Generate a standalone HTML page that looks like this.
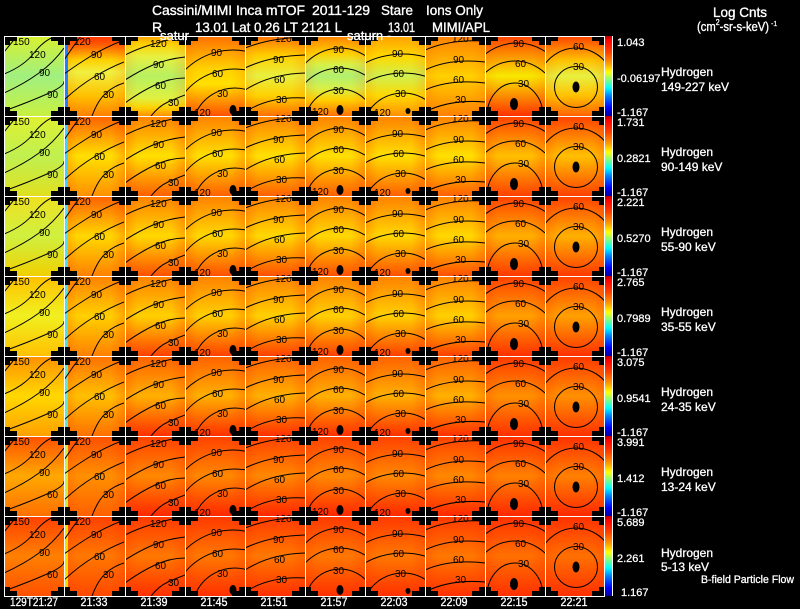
<!DOCTYPE html>
<html>
<head>
<meta charset="utf-8">
<style>
html,body{margin:0;padding:0;background:#000;width:800px;height:609px;overflow:hidden;}
svg{display:block;}
text{font-family:"Liberation Sans",sans-serif;}
</style>
</head>
<body>
<svg width="800" height="609" viewBox="0 0 800 609" xmlns="http://www.w3.org/2000/svg" xmlns:xlink="http://www.w3.org/1999/xlink" overflow="hidden">
<defs>
<clipPath id="pc"><rect x="0" y="0" width="60" height="80"/></clipPath>
<linearGradient id="r0a" x1="0" y1="0" x2="0" y2="1"><stop offset="0" stop-color="#d8f030"/><stop offset=".5" stop-color="#a0f080"/><stop offset="1" stop-color="#c8f040"/></linearGradient>
<linearGradient id="r0b" x1="0" y1="0" x2="0" y2="1"><stop offset="0" stop-color="#ff3000"/><stop offset=".12" stop-color="#ff6000"/><stop offset=".3" stop-color="#ffd000"/><stop offset=".45" stop-color="#f0f040"/><stop offset=".75" stop-color="#ffc000"/><stop offset="1" stop-color="#ff8000"/></linearGradient>
<linearGradient id="r0c" x1="0" y1="0" x2="0" y2="1"><stop offset="0" stop-color="#ffa000"/><stop offset=".1" stop-color="#ffd000"/><stop offset=".25" stop-color="#e8f040"/><stop offset=".5" stop-color="#b8f060"/><stop offset=".78" stop-color="#e0f040"/><stop offset=".9" stop-color="#ffd000"/><stop offset="1" stop-color="#ff9000"/></linearGradient>
<linearGradient id="r0d" x1="0" y1="0" x2="0" y2="1"><stop offset="0" stop-color="#ff7000"/><stop offset=".4" stop-color="#ffd000"/><stop offset=".6" stop-color="#ffe000"/><stop offset="1" stop-color="#ff5000"/></linearGradient>
<linearGradient id="r0e" x1="0" y1="0" x2="0" y2="1"><stop offset="0" stop-color="#ff7000"/><stop offset=".25" stop-color="#ffd000"/><stop offset=".5" stop-color="#e8f040"/><stop offset=".75" stop-color="#ffd000"/><stop offset="1" stop-color="#ff7000"/></linearGradient>
<linearGradient id="r0f" x1="0" y1="0" x2="0" y2="1"><stop offset="0" stop-color="#ff8000"/><stop offset=".22" stop-color="#ffd000"/><stop offset=".35" stop-color="#d8f048"/><stop offset=".5" stop-color="#b0f070"/><stop offset=".65" stop-color="#d8f048"/><stop offset=".8" stop-color="#ffd000"/><stop offset="1" stop-color="#ff7000"/></linearGradient>
<linearGradient id="r0g" x1="0" y1="0" x2="0" y2="1"><stop offset="0" stop-color="#ffa000"/><stop offset=".25" stop-color="#ffd800"/><stop offset=".5" stop-color="#d0f050"/><stop offset=".75" stop-color="#ffd800"/><stop offset="1" stop-color="#ff9000"/></linearGradient>
<linearGradient id="r0h" x1="0" y1="0" x2="0" y2="1"><stop offset="0" stop-color="#ff8000"/><stop offset=".5" stop-color="#ffd000"/><stop offset="1" stop-color="#ff8000"/></linearGradient>
<linearGradient id="r0i" x1="0" y1="0" x2="0" y2="1"><stop offset="0" stop-color="#ff4000"/><stop offset=".5" stop-color="#f8e800"/><stop offset="1" stop-color="#ff3000"/></linearGradient>
<linearGradient id="r0j" x1="0" y1="0" x2="0" y2="1"><stop offset="0" stop-color="#ff4000"/><stop offset=".3" stop-color="#ffc000"/><stop offset=".5" stop-color="#e8f040"/><stop offset=".75" stop-color="#ffc000"/><stop offset="1" stop-color="#ff6000"/></linearGradient>
<linearGradient id="r1a" x1="0" y1="0" x2="0" y2="1"><stop offset="0" stop-color="#e0f030"/><stop offset=".5" stop-color="#c0f050"/><stop offset="1" stop-color="#e0e020"/></linearGradient>
<linearGradient id="r1b" x1="0" y1="0" x2="0" y2="1"><stop offset="0" stop-color="#ff6000"/><stop offset=".5" stop-color="#ffe000"/><stop offset="1" stop-color="#ff9000"/></linearGradient>
<linearGradient id="r1m" x1="0" y1="0" x2="0" y2="1"><stop offset="0" stop-color="#ff8000"/><stop offset=".5" stop-color="#ffe000"/><stop offset="1" stop-color="#ff6000"/></linearGradient>
<linearGradient id="r1e" x1="0" y1="0" x2="0" y2="1"><stop offset="0" stop-color="#ff4000"/><stop offset=".5" stop-color="#ffc000"/><stop offset="1" stop-color="#ff4000"/></linearGradient>
<linearGradient id="r2a" x1="0" y1="0" x2="0" y2="1"><stop offset="0" stop-color="#f0e020"/><stop offset=".5" stop-color="#d0f040"/><stop offset="1" stop-color="#f0d000"/></linearGradient>
<linearGradient id="r2b" x1="0" y1="0" x2="0" y2="1"><stop offset="0" stop-color="#ff6000"/><stop offset=".5" stop-color="#ffd800"/><stop offset="1" stop-color="#ff8000"/></linearGradient>
<linearGradient id="r2m" x1="0" y1="0" x2="0" y2="1"><stop offset="0" stop-color="#ff8000"/><stop offset=".5" stop-color="#ffd800"/><stop offset="1" stop-color="#ff5000"/></linearGradient>
<linearGradient id="r2e" x1="0" y1="0" x2="0" y2="1"><stop offset="0" stop-color="#ff4000"/><stop offset=".5" stop-color="#ffb000"/><stop offset="1" stop-color="#ff3800"/></linearGradient>
<linearGradient id="r3a" x1="0" y1="0" x2="0" y2="1"><stop offset="0" stop-color="#ffc000"/><stop offset=".5" stop-color="#f0f020"/><stop offset="1" stop-color="#ffc000"/></linearGradient>
<linearGradient id="r3b" x1="0" y1="0" x2="0" y2="1"><stop offset="0" stop-color="#ff8000"/><stop offset=".5" stop-color="#ffd000"/><stop offset="1" stop-color="#ff8000"/></linearGradient>
<linearGradient id="r3m" x1="0" y1="0" x2="0" y2="1"><stop offset="0" stop-color="#ff8000"/><stop offset=".5" stop-color="#ffd000"/><stop offset="1" stop-color="#ff4000"/></linearGradient>
<linearGradient id="r3e" x1="0" y1="0" x2="0" y2="1"><stop offset="0" stop-color="#ff4000"/><stop offset=".5" stop-color="#ffa000"/><stop offset="1" stop-color="#ff3000"/></linearGradient>
<linearGradient id="r4a" x1="0" y1="0" x2="0" y2="1"><stop offset="0" stop-color="#ff9000"/><stop offset=".5" stop-color="#ffd800"/><stop offset="1" stop-color="#ffa000"/></linearGradient>
<linearGradient id="r4b" x1="0" y1="0" x2="0" y2="1"><stop offset="0" stop-color="#ff7000"/><stop offset=".5" stop-color="#ffc000"/><stop offset="1" stop-color="#ff7000"/></linearGradient>
<linearGradient id="r4m" x1="0" y1="0" x2="0" y2="1"><stop offset="0" stop-color="#ff6000"/><stop offset=".5" stop-color="#ffb000"/><stop offset="1" stop-color="#ff3000"/></linearGradient>
<linearGradient id="r4e" x1="0" y1="0" x2="0" y2="1"><stop offset="0" stop-color="#ff3800"/><stop offset=".5" stop-color="#ff9000"/><stop offset="1" stop-color="#ff3000"/></linearGradient>
<linearGradient id="r5a" x1="0" y1="0" x2="0" y2="1"><stop offset="0" stop-color="#ff5000"/><stop offset=".5" stop-color="#ffa800"/><stop offset="1" stop-color="#ff7000"/></linearGradient>
<linearGradient id="r5b" x1="0" y1="0" x2="0" y2="1"><stop offset="0" stop-color="#ff5000"/><stop offset=".5" stop-color="#ff9000"/><stop offset="1" stop-color="#ff6000"/></linearGradient>
<linearGradient id="r5m" x1="0" y1="0" x2="0" y2="1"><stop offset="0" stop-color="#ff4000"/><stop offset=".5" stop-color="#ff8800"/><stop offset="1" stop-color="#ff2800"/></linearGradient>
<linearGradient id="r5e" x1="0" y1="0" x2="0" y2="1"><stop offset="0" stop-color="#ff3000"/><stop offset=".5" stop-color="#ff8000"/><stop offset="1" stop-color="#ff2800"/></linearGradient>
<linearGradient id="r6a" x1="0" y1="0" x2="0" y2="1"><stop offset="0" stop-color="#ff4000"/><stop offset=".5" stop-color="#ff8000"/><stop offset="1" stop-color="#ff5000"/></linearGradient>
<linearGradient id="r6b" x1="0" y1="0" x2="0" y2="1"><stop offset="0" stop-color="#ff4000"/><stop offset=".5" stop-color="#ff7800"/><stop offset="1" stop-color="#ff4800"/></linearGradient>
<linearGradient id="r6m" x1="0" y1="0" x2="0" y2="1"><stop offset="0" stop-color="#ff3800"/><stop offset=".5" stop-color="#ff7800"/><stop offset="1" stop-color="#ff3000"/></linearGradient>
<linearGradient id="r6e" x1="0" y1="0" x2="0" y2="1"><stop offset="0" stop-color="#ff3000"/><stop offset=".5" stop-color="#ff7000"/><stop offset="1" stop-color="#ff3000"/></linearGradient>
<linearGradient id="cb" x1="0" y1="0" x2="0" y2="1"><stop offset="0" stop-color="#b00000"/><stop offset=".05" stop-color="#ff0000"/><stop offset=".2" stop-color="#ff4000"/><stop offset=".35" stop-color="#ffa000"/><stop offset=".45" stop-color="#ffff00"/><stop offset=".55" stop-color="#80ff80"/><stop offset=".65" stop-color="#00ffff"/><stop offset=".75" stop-color="#0080ff"/><stop offset=".9" stop-color="#0000ff"/><stop offset="1" stop-color="#0000a0"/></linearGradient>
<linearGradient id="sdg" x1="0" y1="0" x2="1" y2="0"><stop offset="0" stop-color="#ff3000" stop-opacity=".25"/><stop offset=".22" stop-color="#ff3000" stop-opacity="0"/><stop offset=".78" stop-color="#ff3000" stop-opacity="0"/><stop offset="1" stop-color="#ff3000" stop-opacity=".25"/></linearGradient>
<pattern id="sd" patternUnits="userSpaceOnUse" x="4" y="36" width="60.1" height="80"><rect x="0" y="0" width="60.1" height="80" fill="url(#sdg)"/></pattern>
<path id="xc" d="M-13,-5h26v10h-26zM-6,-9h12v18h-12z" fill="#000"/>
</defs>

<rect x="0" y="0" width="800" height="609" fill="#000"/>

<rect x="4" y="36" width="60" height="80" fill="url(#r0a)"/>
<rect x="64" y="36" width="61" height="80" fill="url(#r0b)"/>
<rect x="125" y="36" width="60" height="80" fill="url(#r0c)"/>
<rect x="185" y="36" width="60" height="80" fill="url(#r0d)"/>
<rect x="245" y="36" width="60" height="80" fill="url(#r0e)"/>
<rect x="305" y="36" width="60" height="80" fill="url(#r0f)"/>
<rect x="365" y="36" width="60" height="80" fill="url(#r0g)"/>
<rect x="425" y="36" width="60" height="80" fill="url(#r0h)"/>
<rect x="485" y="36" width="60" height="80" fill="url(#r0i)"/>
<rect x="545" y="36" width="60" height="80" fill="url(#r0j)"/>
<rect x="4" y="116" width="60" height="80" fill="url(#r1a)"/><rect x="64" y="116" width="61" height="80" fill="url(#r1b)"/><rect x="125" y="116" width="360" height="80" fill="url(#r1m)"/><rect x="485" y="116" width="120" height="80" fill="url(#r1e)"/>
<rect x="4" y="196" width="60" height="80" fill="url(#r2a)"/><rect x="64" y="196" width="61" height="80" fill="url(#r2b)"/><rect x="125" y="196" width="360" height="80" fill="url(#r2m)"/><rect x="485" y="196" width="120" height="80" fill="url(#r2e)"/>
<rect x="4" y="276" width="60" height="80" fill="url(#r3a)"/><rect x="64" y="276" width="61" height="80" fill="url(#r3b)"/><rect x="125" y="276" width="360" height="80" fill="url(#r3m)"/><rect x="485" y="276" width="120" height="80" fill="url(#r3e)"/>
<rect x="4" y="356" width="60" height="80" fill="url(#r4a)"/><rect x="64" y="356" width="61" height="80" fill="url(#r4b)"/><rect x="125" y="356" width="360" height="80" fill="url(#r4m)"/><rect x="485" y="356" width="120" height="80" fill="url(#r4e)"/>
<rect x="4" y="436" width="60" height="80" fill="url(#r5a)"/><rect x="64" y="436" width="61" height="80" fill="url(#r5b)"/><rect x="125" y="436" width="360" height="80" fill="url(#r5m)"/><rect x="485" y="436" width="120" height="80" fill="url(#r5e)"/>
<rect x="4" y="516" width="60" height="80" fill="url(#r6a)"/><rect x="64" y="516" width="61" height="80" fill="url(#r6b)"/><rect x="125" y="516" width="360" height="80" fill="url(#r6m)"/><rect x="485" y="516" width="120" height="80" fill="url(#r6e)"/>

<rect x="64" y="116" width="541" height="480" fill="url(#sd)"/>
<rect x="64" y="36" width="541" height="80" fill="url(#sd)" opacity=".5"/>

<rect x="65" y="36" width="3" height="80" fill="#2080ff"/>
<rect x="65" y="116" width="3" height="80" fill="#40d0ff"/>
<rect x="65" y="196" width="3" height="80" fill="#50e0f0"/>
<rect x="65" y="276" width="3" height="80" fill="#50e0e0"/>
<rect x="65" y="356" width="3" height="80" fill="#60e8d0"/>
<rect x="65" y="436" width="3" height="80" fill="#c8f040"/>
<rect x="65" y="516" width="3" height="80" fill="#f0e000"/>

<g id="cg" fill="none" stroke="#000" stroke-width="1">
 <g transform="translate(4,36)"><g clip-path="url(#pc)"><path d="M0,16 L13,0 M0,38 Q20,30 30,17 T52,0 M0,57 Q20,48 35,37 T60,12 M0,75 Q25,66 43,58 T60,45"/></g></g>
 <g transform="translate(64,36)"><g clip-path="url(#pc)"><path d="M0,24 Q8,12 17,0 M0,38 Q14,28 27,20 T60,4 M0,64 Q15,50 30,41 T60,26 M28,80 Q34,64 42,57 T60,47"/></g></g>
 <g transform="translate(125,36)"><g clip-path="url(#pc)"><path d="M0,19 Q12,13 25,9 T60,0 M0,44 Q14,35 28,29 T60,21 M0,67 Q15,56 30,49 T60,42 M26,80 Q34,70 43,66 T60,59"/></g></g>
 <g transform="translate(185,36)"><path d="M0,34 A73,81 0 0 1 60,15.1 M0,56.3 A64,62 0 0 1 60,33.8 M9.7,80 A43,43 0 0 1 60,53.2"/></g>
 <g transform="translate(245,36)"><path d="M0,12 Q25,2 60,1 M0,32 Q25,20 60,19 M0,54 Q25,38 60,37 M0,76 Q25,60 60,62"/></g>
 <g transform="translate(305,36)"><path d="M0,27.6 A60,83 0 0 1 60,19.5 M0,47.1 A52,58 0 0 1 60,39.1 M1.4,80 A34,32 0 0 1 60,63.3"/></g>
 <g transform="translate(365,36)"><path d="M0,27 A81,77 0 0 1 60,20.9 M0,46.9 A68,58 0 0 1 60,40.1 M1.2,80 A40,38 0 0 1 60,63.3"/></g>
 <g transform="translate(425,36)"><path d="M0,14 Q25,3 60,5 M0,34 Q25,22 60,26 M0,54 Q25,43 60,47 M0,76 Q25,63 60,66"/></g>
 <g transform="translate(485,36)"><path d="M0,18.2 A62,78 0 0 1 60,15.4 M0,37 A50,60 0 0 1 60,37 M2,80 A28,33 0 0 1 58,80"/></g>
 <g transform="translate(545,36)"><path d="M0,27.8 A40,43 0 0 1 60,25.4"/><ellipse cx="31" cy="51" rx="21.5" ry="20.5"/></g>
 <g fill="#000" stroke="none"><ellipse cx="233" cy="110" rx="3.5" ry="5"/><ellipse cx="340" cy="110" rx="3.5" ry="5"/><ellipse cx="408" cy="111" rx="2.5" ry="3"/><ellipse cx="514" cy="104" rx="4" ry="6"/><ellipse cx="576" cy="87" rx="3.5" ry="5.5"/></g>
</g>
<use xlink:href="#cg" href="#cg" y="80"/>
<use xlink:href="#cg" href="#cg" y="160"/>
<use xlink:href="#cg" href="#cg" y="240"/>
<use xlink:href="#cg" href="#cg" y="320"/>
<use xlink:href="#cg" href="#cg" y="400"/>
<use xlink:href="#cg" href="#cg" y="480"/>

<g id="xr">
<use xlink:href="#xc" href="#xc" x="4" y="36"/><use xlink:href="#xc" href="#xc" x="64" y="36"/><use xlink:href="#xc" href="#xc" x="125" y="36"/><use xlink:href="#xc" href="#xc" x="185" y="36"/><use xlink:href="#xc" href="#xc" x="245" y="36"/><use xlink:href="#xc" href="#xc" x="305" y="36"/><use xlink:href="#xc" href="#xc" x="365" y="36"/><use xlink:href="#xc" href="#xc" x="425" y="36"/><use xlink:href="#xc" href="#xc" x="485" y="36"/><use xlink:href="#xc" href="#xc" x="545" y="36"/><use xlink:href="#xc" href="#xc" x="605" y="36"/>
</g>
<use xlink:href="#xr" href="#xr" y="80"/>
<use xlink:href="#xr" href="#xr" y="160"/>
<use xlink:href="#xr" href="#xr" y="240"/>
<use xlink:href="#xr" href="#xr" y="320"/>
<use xlink:href="#xr" href="#xr" y="400"/>
<use xlink:href="#xr" href="#xr" y="480"/>
<use xlink:href="#xr" href="#xr" y="560"/>

<g font-size="10" fill="#000">
<text><tspan x="13" y="45">150</tspan><tspan x="29" y="58">120</tspan><tspan x="39" y="76">90</tspan><tspan x="47" y="98">90</tspan><tspan x="74" y="45">120</tspan><tspan x="91" y="58">90</tspan><tspan x="94" y="80">60</tspan><tspan x="103" y="98">30</tspan><tspan x="150" y="47">120</tspan><tspan x="153" y="68">90</tspan><tspan x="155" y="89">60</tspan><tspan x="168" y="106">30</tspan><tspan x="211" y="56">90</tspan><tspan x="212" y="77">60</tspan><tspan x="217" y="97">30</tspan><tspan x="194" y="116">120</tspan><tspan x="275" y="42">120</tspan><tspan x="273" y="63">90</tspan><tspan x="274" y="83">60</tspan><tspan x="276" y="103">30</tspan><tspan x="333" y="53">90</tspan><tspan x="333" y="73">60</tspan><tspan x="333" y="94">30</tspan><tspan x="312" y="115">120</tspan><tspan x="392" y="57">90</tspan><tspan x="393" y="77">60</tspan><tspan x="395" y="97">30</tspan><tspan x="374" y="116">120</tspan><tspan x="452" y="42">120</tspan><tspan x="453" y="63">90</tspan><tspan x="453" y="83">60</tspan><tspan x="455" y="103">30</tspan><tspan x="513" y="47">90</tspan><tspan x="515" y="67">60</tspan><tspan x="518" y="87">30</tspan><tspan x="573" y="50">60</tspan><tspan x="573" y="70">30</tspan></text>
<text transform="translate(0,80)"><tspan x="13" y="45">150</tspan><tspan x="29" y="58">120</tspan><tspan x="39" y="76">90</tspan><tspan x="47" y="98">90</tspan><tspan x="74" y="45">120</tspan><tspan x="91" y="58">90</tspan><tspan x="94" y="80">60</tspan><tspan x="103" y="98">30</tspan><tspan x="150" y="47">120</tspan><tspan x="153" y="68">90</tspan><tspan x="155" y="89">60</tspan><tspan x="168" y="106">30</tspan><tspan x="211" y="56">90</tspan><tspan x="212" y="77">60</tspan><tspan x="217" y="97">30</tspan><tspan x="194" y="116">120</tspan><tspan x="275" y="42">120</tspan><tspan x="273" y="63">90</tspan><tspan x="274" y="83">60</tspan><tspan x="276" y="103">30</tspan><tspan x="333" y="53">90</tspan><tspan x="333" y="73">60</tspan><tspan x="333" y="94">30</tspan><tspan x="312" y="115">120</tspan><tspan x="392" y="57">90</tspan><tspan x="393" y="77">60</tspan><tspan x="395" y="97">30</tspan><tspan x="374" y="116">120</tspan><tspan x="452" y="42">120</tspan><tspan x="453" y="63">90</tspan><tspan x="453" y="83">60</tspan><tspan x="455" y="103">30</tspan><tspan x="513" y="47">90</tspan><tspan x="515" y="67">60</tspan><tspan x="518" y="87">30</tspan><tspan x="573" y="50">60</tspan><tspan x="573" y="70">30</tspan></text>
<text transform="translate(0,160)"><tspan x="13" y="45">150</tspan><tspan x="29" y="58">120</tspan><tspan x="39" y="76">90</tspan><tspan x="47" y="98">90</tspan><tspan x="74" y="45">120</tspan><tspan x="91" y="58">90</tspan><tspan x="94" y="80">60</tspan><tspan x="103" y="98">30</tspan><tspan x="150" y="47">120</tspan><tspan x="153" y="68">90</tspan><tspan x="155" y="89">60</tspan><tspan x="168" y="106">30</tspan><tspan x="211" y="56">90</tspan><tspan x="212" y="77">60</tspan><tspan x="217" y="97">30</tspan><tspan x="194" y="116">120</tspan><tspan x="275" y="42">120</tspan><tspan x="273" y="63">90</tspan><tspan x="274" y="83">60</tspan><tspan x="276" y="103">30</tspan><tspan x="333" y="53">90</tspan><tspan x="333" y="73">60</tspan><tspan x="333" y="94">30</tspan><tspan x="312" y="115">120</tspan><tspan x="392" y="57">90</tspan><tspan x="393" y="77">60</tspan><tspan x="395" y="97">30</tspan><tspan x="374" y="116">120</tspan><tspan x="452" y="42">120</tspan><tspan x="453" y="63">90</tspan><tspan x="453" y="83">60</tspan><tspan x="455" y="103">30</tspan><tspan x="513" y="47">90</tspan><tspan x="515" y="67">60</tspan><tspan x="518" y="87">30</tspan><tspan x="573" y="50">60</tspan><tspan x="573" y="70">30</tspan></text>
<text transform="translate(0,240)"><tspan x="13" y="45">150</tspan><tspan x="29" y="58">120</tspan><tspan x="39" y="76">90</tspan><tspan x="47" y="98">90</tspan><tspan x="74" y="45">120</tspan><tspan x="91" y="58">90</tspan><tspan x="94" y="80">60</tspan><tspan x="103" y="98">30</tspan><tspan x="150" y="47">120</tspan><tspan x="153" y="68">90</tspan><tspan x="155" y="89">60</tspan><tspan x="168" y="106">30</tspan><tspan x="211" y="56">90</tspan><tspan x="212" y="77">60</tspan><tspan x="217" y="97">30</tspan><tspan x="194" y="116">120</tspan><tspan x="275" y="42">120</tspan><tspan x="273" y="63">90</tspan><tspan x="274" y="83">60</tspan><tspan x="276" y="103">30</tspan><tspan x="333" y="53">90</tspan><tspan x="333" y="73">60</tspan><tspan x="333" y="94">30</tspan><tspan x="312" y="115">120</tspan><tspan x="392" y="57">90</tspan><tspan x="393" y="77">60</tspan><tspan x="395" y="97">30</tspan><tspan x="374" y="116">120</tspan><tspan x="452" y="42">120</tspan><tspan x="453" y="63">90</tspan><tspan x="453" y="83">60</tspan><tspan x="455" y="103">30</tspan><tspan x="513" y="47">90</tspan><tspan x="515" y="67">60</tspan><tspan x="518" y="87">30</tspan><tspan x="573" y="50">60</tspan><tspan x="573" y="70">30</tspan></text>
<text transform="translate(0,320)"><tspan x="13" y="45">150</tspan><tspan x="29" y="58">120</tspan><tspan x="39" y="76">90</tspan><tspan x="47" y="98">90</tspan><tspan x="74" y="45">120</tspan><tspan x="91" y="58">90</tspan><tspan x="94" y="80">60</tspan><tspan x="103" y="98">30</tspan><tspan x="150" y="47">120</tspan><tspan x="153" y="68">90</tspan><tspan x="155" y="89">60</tspan><tspan x="168" y="106">30</tspan><tspan x="211" y="56">90</tspan><tspan x="212" y="77">60</tspan><tspan x="217" y="97">30</tspan><tspan x="194" y="116">120</tspan><tspan x="275" y="42">120</tspan><tspan x="273" y="63">90</tspan><tspan x="274" y="83">60</tspan><tspan x="276" y="103">30</tspan><tspan x="333" y="53">90</tspan><tspan x="333" y="73">60</tspan><tspan x="333" y="94">30</tspan><tspan x="312" y="115">120</tspan><tspan x="392" y="57">90</tspan><tspan x="393" y="77">60</tspan><tspan x="395" y="97">30</tspan><tspan x="374" y="116">120</tspan><tspan x="452" y="42">120</tspan><tspan x="453" y="63">90</tspan><tspan x="453" y="83">60</tspan><tspan x="455" y="103">30</tspan><tspan x="513" y="47">90</tspan><tspan x="515" y="67">60</tspan><tspan x="518" y="87">30</tspan><tspan x="573" y="50">60</tspan><tspan x="573" y="70">30</tspan></text>
<text transform="translate(0,400)"><tspan x="13" y="45">150</tspan><tspan x="29" y="58">120</tspan><tspan x="39" y="76">90</tspan><tspan x="47" y="98">60</tspan><tspan x="74" y="45">120</tspan><tspan x="91" y="58">90</tspan><tspan x="94" y="80">60</tspan><tspan x="103" y="98">30</tspan><tspan x="150" y="47">120</tspan><tspan x="153" y="68">90</tspan><tspan x="155" y="89">60</tspan><tspan x="168" y="106">30</tspan><tspan x="211" y="56">90</tspan><tspan x="212" y="77">60</tspan><tspan x="217" y="97">30</tspan><tspan x="194" y="116">120</tspan><tspan x="275" y="42">120</tspan><tspan x="273" y="63">90</tspan><tspan x="274" y="83">60</tspan><tspan x="276" y="103">30</tspan><tspan x="333" y="53">90</tspan><tspan x="333" y="73">60</tspan><tspan x="333" y="94">30</tspan><tspan x="312" y="115">120</tspan><tspan x="392" y="57">90</tspan><tspan x="393" y="77">60</tspan><tspan x="395" y="97">30</tspan><tspan x="374" y="116">120</tspan><tspan x="452" y="42">120</tspan><tspan x="453" y="63">90</tspan><tspan x="453" y="83">60</tspan><tspan x="455" y="103">30</tspan><tspan x="513" y="47">90</tspan><tspan x="515" y="67">60</tspan><tspan x="518" y="87">30</tspan><tspan x="573" y="50">60</tspan><tspan x="573" y="70">30</tspan></text>
<text transform="translate(0,480)"><tspan x="13" y="45">150</tspan><tspan x="29" y="58">120</tspan><tspan x="39" y="76">90</tspan><tspan x="47" y="98">60</tspan><tspan x="74" y="45">120</tspan><tspan x="91" y="58">90</tspan><tspan x="94" y="80">60</tspan><tspan x="103" y="98">30</tspan><tspan x="150" y="47">120</tspan><tspan x="153" y="68">90</tspan><tspan x="155" y="89">60</tspan><tspan x="168" y="106">30</tspan><tspan x="211" y="56">90</tspan><tspan x="212" y="77">60</tspan><tspan x="217" y="97">30</tspan><tspan x="275" y="42">120</tspan><tspan x="273" y="63">90</tspan><tspan x="274" y="83">60</tspan><tspan x="276" y="103">30</tspan><tspan x="333" y="53">90</tspan><tspan x="333" y="73">60</tspan><tspan x="333" y="94">30</tspan><tspan x="392" y="57">90</tspan><tspan x="393" y="77">60</tspan><tspan x="395" y="97">30</tspan><tspan x="452" y="42">120</tspan><tspan x="453" y="63">90</tspan><tspan x="453" y="83">60</tspan><tspan x="455" y="103">30</tspan><tspan x="513" y="47">90</tspan><tspan x="515" y="67">60</tspan><tspan x="518" y="87">30</tspan><tspan x="573" y="50">60</tspan><tspan x="573" y="70">30</tspan></text>
</g>

<path d="M4.5,36V596M64.5,36V596M125.5,36V596M185.5,36V596M245.5,36V596M305.5,36V596M365.5,36V596M425.5,36V596M485.5,36V596M545.5,36V596M604.5,36V596M4,36.5H605M4,116.5H605M4,196.5H605M4,276.5H605M4,356.5H605M4,436.5H605M4,516.5H605M4,596.5H605" stroke="#fff" stroke-width="1" fill="none"/>

<rect x="605" y="36" width="7" height="80" fill="url(#cb)"/>
<rect x="605" y="116" width="7" height="80" fill="url(#cb)"/>
<rect x="605" y="196" width="7" height="80" fill="url(#cb)"/>
<rect x="605" y="276" width="7" height="80" fill="url(#cb)"/>
<rect x="605" y="356" width="7" height="80" fill="url(#cb)"/>
<rect x="605" y="436" width="7" height="80" fill="url(#cb)"/>
<rect x="605" y="516" width="7" height="80" fill="url(#cb)"/>
<path d="M612.5,36V596" stroke="#fff" stroke-width="1"/>

<g fill="#fff" stroke="#fff" stroke-width="0.35" font-size="14">
<text x="152" y="15" textLength="153" lengthAdjust="spacingAndGlyphs">Cassini/MIMI Inca mTOF</text>
<text x="312" y="15" textLength="58" lengthAdjust="spacingAndGlyphs">2011-129</text>
<text x="381" y="15" textLength="32" lengthAdjust="spacingAndGlyphs">Stare</text>
<text x="426" y="15" textLength="57" lengthAdjust="spacingAndGlyphs">Ions Only</text>
<text x="152" y="32">R</text>
<text x="195" y="32" textLength="147" lengthAdjust="spacingAndGlyphs">13.01 Lat 0.26 LT 2121 L</text>
<text x="388" y="32" textLength="27" lengthAdjust="spacingAndGlyphs">13.01</text>
<text x="432" y="32" textLength="58" lengthAdjust="spacingAndGlyphs">MIMI/APL</text>
<text x="713" y="17" textLength="54" lengthAdjust="spacingAndGlyphs">Log Cnts</text>
<text x="697" y="31" font-size="13" textLength="72" lengthAdjust="spacingAndGlyphs">(cm<tspan font-size="8" dy="-6">2</tspan><tspan dy="6">-sr-s-keV)</tspan></text>
<text x="771" y="26" font-size="7" stroke-width="0.2">-1</text>
<text x="160" y="40" font-size="13">satur</text>
<text x="347" y="40" font-size="13">saturn -</text>
</g>

<g fill="#fff" stroke="#fff" stroke-width="0.25" font-size="11">
<text x="617" y="46">1.043</text><text x="617" y="82">-0.06197</text><text x="617" y="116">-1.167</text>
<text x="617" y="126">1.731</text><text x="617" y="162">0.2821</text><text x="617" y="196">-1.167</text>
<text x="617" y="206">2.221</text><text x="617" y="242">0.5270</text><text x="617" y="276">-1.167</text>
<text x="617" y="286">2.765</text><text x="617" y="322">0.7989</text><text x="617" y="356">-1.167</text>
<text x="617" y="366">3.075</text><text x="617" y="402">0.9541</text><text x="617" y="436">-1.167</text>
<text x="617" y="446">3.991</text><text x="617" y="482">1.412</text><text x="617" y="516">-1.167</text>
<text x="617" y="526">5.689</text><text x="617" y="562">2.261</text><text x="621" y="596">1.167</text>
</g>

<g fill="#fff" stroke="#fff" stroke-width="0.3" font-size="12">
<text x="661" y="76">Hydrogen</text><text x="661" y="91">149-227 keV</text>
<text x="661" y="156">Hydrogen</text><text x="661" y="171">90-149 keV</text>
<text x="661" y="236">Hydrogen</text><text x="661" y="251">55-90 keV</text>
<text x="661" y="316">Hydrogen</text><text x="661" y="331">35-55 keV</text>
<text x="661" y="396">Hydrogen</text><text x="661" y="411">24-35 keV</text>
<text x="661" y="476">Hydrogen</text><text x="661" y="491">13-24 keV</text>
<text x="661" y="557">Hydrogen</text><text x="661" y="571">5-13 keV</text>
<text x="701" y="583" font-size="11" textLength="93" lengthAdjust="spacingAndGlyphs">B-field Particle Flow</text>
</g>

<g fill="#fff" stroke="#fff" stroke-width="0.3" font-size="12" text-anchor="middle">
<text x="34" y="606" textLength="48" lengthAdjust="spacingAndGlyphs">129T21:27</text>
<text x="94" y="606" textLength="27" lengthAdjust="spacingAndGlyphs">21:33</text>
<text x="154" y="606" textLength="27" lengthAdjust="spacingAndGlyphs">21:39</text>
<text x="214" y="606" textLength="27" lengthAdjust="spacingAndGlyphs">21:45</text>
<text x="274" y="606" textLength="27" lengthAdjust="spacingAndGlyphs">21:51</text>
<text x="334" y="606" textLength="27" lengthAdjust="spacingAndGlyphs">21:57</text>
<text x="394" y="606" textLength="27" lengthAdjust="spacingAndGlyphs">22:03</text>
<text x="454" y="606" textLength="27" lengthAdjust="spacingAndGlyphs">22:09</text>
<text x="514" y="606" textLength="27" lengthAdjust="spacingAndGlyphs">22:15</text>
<text x="574" y="606" textLength="27" lengthAdjust="spacingAndGlyphs">22:21</text>
</g>
</svg>
</body>
</html>
